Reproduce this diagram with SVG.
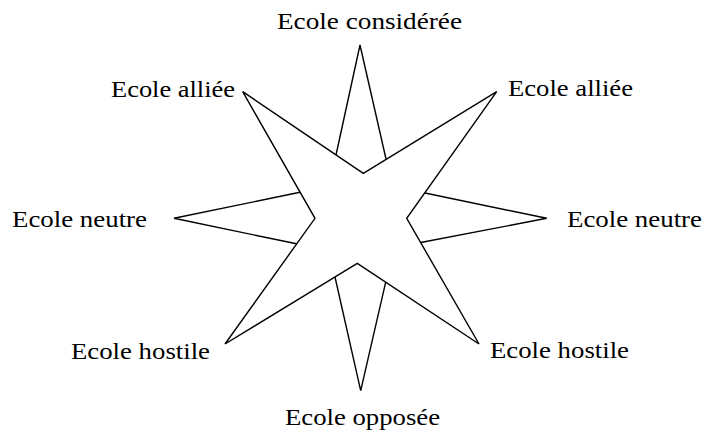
<svg xmlns="http://www.w3.org/2000/svg" width="703" height="433" viewBox="0 0 703 433">
<style>
.lbl{font-family:"Liberation Serif","Times New Roman",serif;font-size:24px;fill:#000}
.ln{fill:none;stroke:#000;stroke-width:1.4;stroke-linejoin:miter}
</style>
<rect width="703" height="433" fill="#fff"/>
<g id="connectors">
<polygon id="star" points="242.7,91.7 363.3,173.3 496.7,91.7 406.7,218.3 479,344 357.3,263.3 225,344 315,218.3" fill="#fff" stroke="#000" stroke-width="1.4"/>
<polyline class="ln" points="336,155 360,45 386,159"/>
<polyline class="ln" points="425,193 546.7,218.3 420.7,242.5"/>
<polyline class="ln" points="335,277 360.7,390.7 385.7,282.2"/>
<polyline class="ln" points="300,192.3 174,218.3 296.5,243.8"/>
</g>
<g id="n-top"><text class="lbl" x="277" y="29" textLength="185" lengthAdjust="spacingAndGlyphs">Ecole considérée</text></g>
<g id="n-tl"><text class="lbl" x="111" y="97" textLength="124" lengthAdjust="spacingAndGlyphs">Ecole alliée</text></g>
<g id="n-tr"><text class="lbl" x="508" y="96" textLength="125" lengthAdjust="spacingAndGlyphs">Ecole alliée</text></g>
<g id="n-l"><text class="lbl" x="12" y="227" textLength="135" lengthAdjust="spacingAndGlyphs">Ecole neutre</text></g>
<g id="n-r"><text class="lbl" x="567" y="227" textLength="135" lengthAdjust="spacingAndGlyphs">Ecole neutre</text></g>
<g id="n-bl"><text class="lbl" x="71" y="359" textLength="139" lengthAdjust="spacingAndGlyphs">Ecole hostile</text></g>
<g id="n-br"><text class="lbl" x="490" y="358" textLength="139" lengthAdjust="spacingAndGlyphs">Ecole hostile</text></g>
<g id="n-bottom"><text class="lbl" x="285" y="425" textLength="155" lengthAdjust="spacingAndGlyphs">Ecole opposée</text></g>
</svg>
